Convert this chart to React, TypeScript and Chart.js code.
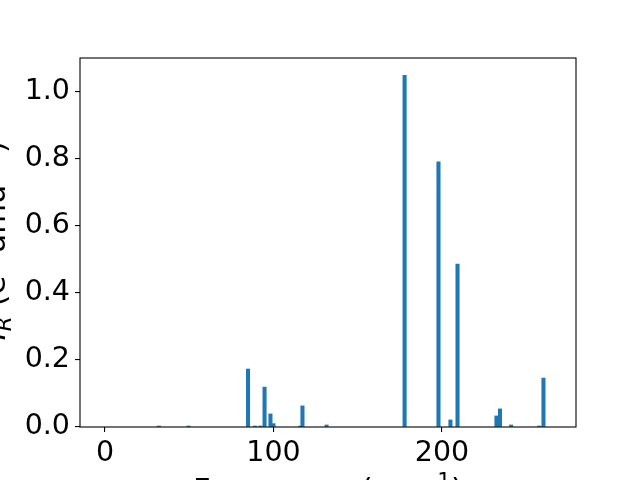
import React, { useEffect, useRef } from "react";
import { Chart, registerables } from "chart.js";

Chart.register(...registerables);

// Data
const frequencies = [32, 49.6, 84.9, 89, 92.3, 94.7, 98.2, 100, 116, 117.2, 131.5, 177.8, 197.9, 205, 209.2, 232.3, 234.4, 241, 257.6, 260.2];
const intensities = [0.003, 0.003, 0.173, 0.003, 0.003, 0.119, 0.039, 0.01, 0.003, 0.063, 0.006, 1.049, 0.791, 0.021, 0.486, 0.033, 0.054, 0.006, 0.003, 0.146];
const xTicks = [0, 100, 200];
const yTicks = [0, 0.2, 0.4, 0.6, 0.8, 1.0];
const xLimits = [-14.8, 279.5];
const yLimits = [0, 1.101];

const TICK_FS = 28.5;
const LABEL_FS = 30.6;
const FONT_FAMILY = '"DejaVu Sans"';

type Seg = { t: string; f: string; dy: number };

function drawSegs(ctx: CanvasRenderingContext2D, segs: Seg[], anchor: number, y: number, align: "center" | "end") {
  let total = 0;
  const widths = segs.map((s) => {
    ctx.font = s.f;
    const w = ctx.measureText(s.t).width;
    total += w;
    return w;
  });
  let x = align === "center" ? anchor - total / 2 : anchor - total;
  segs.forEach((s, i) => {
    ctx.font = s.f;
    ctx.fillText(s.t, x, y + s.dy);
    x += widths[i];
  });
}

const labelPlugin = {
  id: "labelsAndFrame",
  afterDraw(chart: any) {
    const { ctx, chartArea: a } = chart;
    ctx.save();
    ctx.strokeStyle = "#000";
    ctx.lineWidth = 1.1;
    ctx.strokeRect(a.left, a.top, a.right - a.left, a.bottom - a.top);

    const main = `${LABEL_FS}px ${FONT_FAMILY}`;
    const small = `${LABEL_FS * 0.7}px ${FONT_FAMILY}`;
    const italic = `italic ${LABEL_FS}px ${FONT_FAMILY}`;
    const italicSmall = `italic ${LABEL_FS * 0.7}px ${FONT_FAMILY}`;
    ctx.fillStyle = "#000";
    ctx.textBaseline = "alphabetic";
    ctx.textAlign = "left";

    // x label
    drawSegs(
      ctx,
      [
        { t: "Frequency (cm", f: main, dy: 0 },
        { t: "\u22121", f: small, dy: -0.4 * LABEL_FS },
        { t: ")", f: main, dy: 0 },
      ],
      (a.left + a.right) / 2,
      500,
      "center"
    );

    // y label (rotated, reads bottom to top)
    ctx.translate(5, 0);
    ctx.rotate(-Math.PI / 2);
    drawSegs(
      ctx,
      [
        { t: "I", f: italic, dy: 0 },
        { t: "R", f: italicSmall, dy: 0.2 * LABEL_FS },
        { t: " (e", f: main, dy: 0 },
        { t: "2", f: small, dy: -0.4 * LABEL_FS },
        { t: " amu", f: main, dy: 0 },
        { t: "\u22121", f: small, dy: -0.4 * LABEL_FS },
        { t: ")", f: main, dy: 0 },
      ],
      -141,
      0,
      "end"
    );
    ctx.restore();
  },
};

const tickMarks = { display: true, drawOnChartArea: false, drawTicks: true, tickLength: 5, color: "#000", lineWidth: 1.1, offset: false };

export default function App() {
  const canvasRef = useRef<HTMLCanvasElement | null>(null);

  useEffect(() => {
    document.body.style.margin = "0";
    const canvas = canvasRef.current;
    if (!canvas) return;
    const tickFont = { family: FONT_FAMILY, size: TICK_FS };
    const chart = new Chart(canvas, {
      type: "bar",
      data: {
        datasets: [
          {
            data: frequencies.map((f, i) => ({ x: f, y: intensities[i] })),
            backgroundColor: "#1f77b4",
            borderWidth: 0,
            barThickness: 3.4,
          },
        ],
      },
      options: {
        responsive: false,
        animation: false,
        devicePixelRatio: 1,
        layout: { padding: { top: 58, right: 64, left: 0, bottom: 0 } },
        plugins: { legend: { display: false }, tooltip: { enabled: false } },
        scales: {
          x: {
            type: "linear",
            min: xLimits[0],
            max: xLimits[1],
            offset: false,
            afterBuildTicks: (scale: any) => {
              scale.ticks = xTicks.map((v) => ({ value: v }));
            },
            afterFit: (scale: any) => {
              scale.height = 53;
            },
            grid: tickMarks,
            border: { display: false },
            ticks: { font: tickFont, color: "#000", padding: 4, maxRotation: 0, autoSkip: false, callback: (v: any) => String(v) },
          },
          y: {
            type: "linear",
            min: yLimits[0],
            max: yLimits[1],
            afterBuildTicks: (scale: any) => {
              scale.ticks = yTicks.map((v) => ({ value: v }));
            },
            afterFit: (scale: any) => {
              scale.width = 80;
            },
            grid: tickMarks,
            border: { display: false },
            ticks: { font: tickFont, color: "#000", padding: 5, autoSkip: false, callback: (v: any) => Number(v).toFixed(1) },
          },
        },
      },
      plugins: [labelPlugin],
    });
    return () => chart.destroy();
  }, []);

  return (
    <div style={{ position: "absolute", left: 0, top: 0, width: 640, height: 480 }}>
      <canvas ref={canvasRef} width={640} height={480} style={{ width: 640, height: 480 }} />
    </div>
  );
}
